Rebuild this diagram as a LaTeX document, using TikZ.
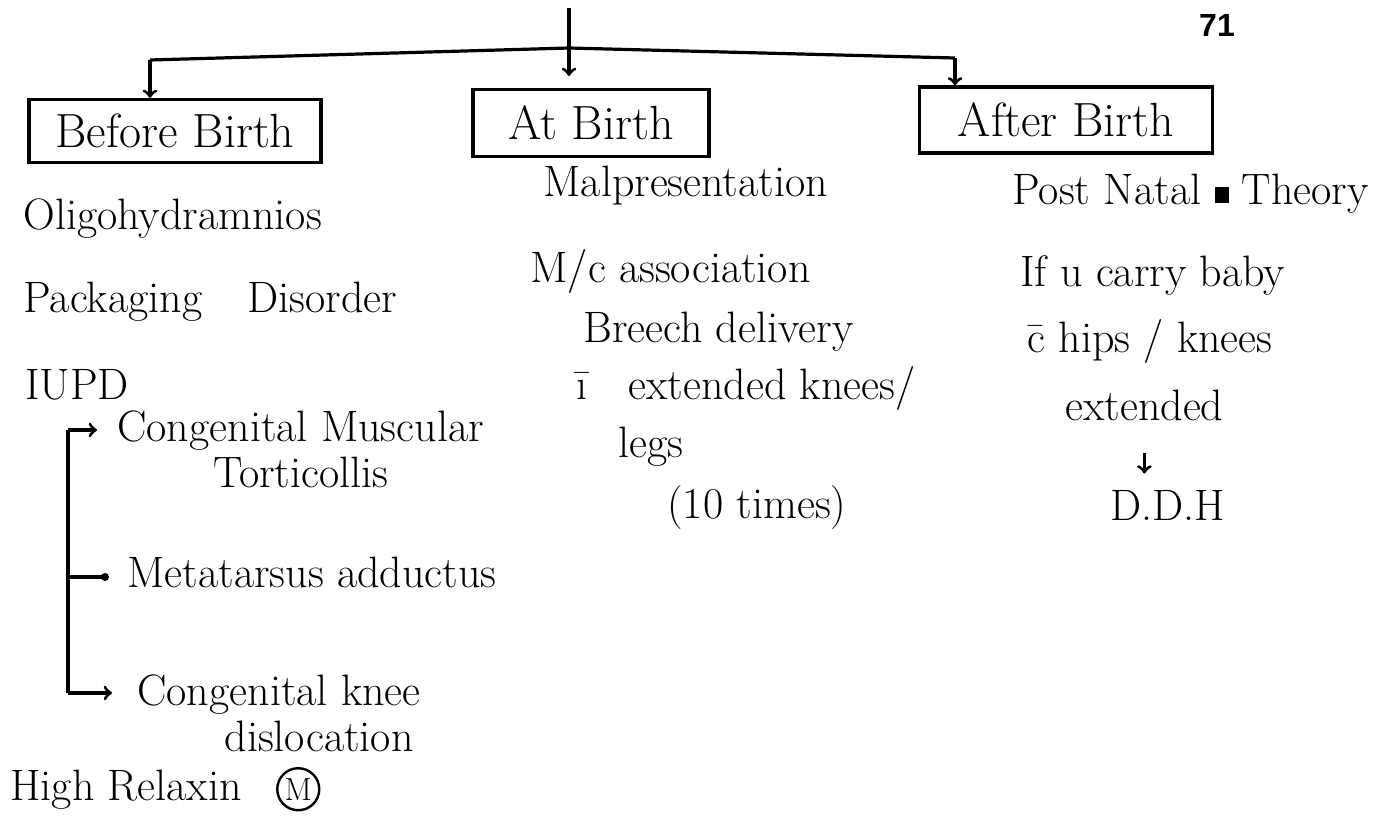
\documentclass[tikz,border=0pt]{standalone}
\usepackage{fontspec}
\setsansfont{Liberation Sans}
\usetikzlibrary{positioning}
\tikzset{
  note/.style={anchor=base west, inner sep=0pt, font=\fontsize{22}{23}\selectfont},
  twoline/.style={note, align=center},
  stagebox/.style={draw, line width=1.6pt, inner sep=0pt,
    font=\fontsize{24}{26}\selectfont},
  link/.style={line width=1.6pt}
}

\begin{document}
\begin{tikzpicture}[x=0.5pt, y=-0.5pt]
\useasboundingbox (0,0) rectangle (1396,823);
\node[font=\sffamily\bfseries\fontsize{16}{18}\selectfont, inner sep=0pt] (page) at (1217,25) {71};

% the three stages
\node[stagebox, minimum width=146pt, minimum height=31.5pt] (before) at (175,131) {Before Birth};
\node[stagebox, minimum width=118pt, minimum height=33.5pt] (atb) at (591,123) {At Birth};
\node[stagebox, minimum width=146.5pt, minimum height=33pt] (after) at (1066,120) {After Birth};

\coordinate (src) at (569,8);
\coordinate (srcend) at (569,76);
\coordinate (lft) at (150,60);
\coordinate (mid) at (569,48);
\coordinate (rgt) at (955,58);
\draw[link] (lft) -- (mid) -- (rgt);
\draw[link,->] (src) -- (srcend);
\draw[link,->] (lft) -- (lft |- before.north);
\draw[link,->] (rgt) -- (rgt |- after.north);

% before birth
\node[note] (oligo) at (23,230) {Oligohydramnios};
\node[note] (pack) at (23,313) {Packaging\hspace{16pt} Disorder};
\node[note] (iupd) at (25,400) {IUPD};
\node[twoline] (cmt) at (117,487) {Congenital Muscular\\Torticollis};
\node[note] (ma) at (127,587) {Metatarsus adductus};
\node[twoline] (ckd) at (137,751) {Congenital knee\\\hspace*{40pt}dislocation};
\node[note] (relax) at (10,800) {High Relaxin};
\node[draw, circle, line width=1.2pt, inner sep=0pt, minimum size=21pt,
  font=\fontsize{16}{16}\selectfont, right=17pt of relax.east, anchor=west] (relaxm) {M};

\coordinate (brtop) at (68,430);
\coordinate (brbot) at (68,693);
\draw[link] (brtop) -- (brbot);
\draw[link,->] (brtop) -- (97,430);
\draw[link] (brtop |- 0,577) -- (105,577);
\fill (105,577) circle (2pt);
\draw[link,->] (brbot) -- (112,693);

% at birth
\node[note] (malp) at (543,197) {Malpresentation};
\node[note] (mc) at (530,283) {M/c association};
\node[note] (breech) at (583,343) {Breech delivery};
\node[note] (ext) at (576,400) {\={\i}\hspace{14pt} extended knees/};
\node[note] (legs) at (618,457) {legs};
\node[note] (times) at (667,518) {(10 times)};

% after birth
\node[note] (post) at (1012,205) {Post Natal \rule[1pt]{7pt}{8pt} Theory};
\node[note] (carry) at (1020,287) {If u carry baby};
\node[note] (hips) at (1027,353) {\={c} hips / knees};
\node[note] (extd) at (1065,420) {extended};
\node[note] (ddh) at (1110,520) {D.D.H};
\draw[link,->,shorten <=16pt,shorten >=8pt] (extd.south) -- (extd.south |- ddh.north);
\end{tikzpicture}
\end{document}
